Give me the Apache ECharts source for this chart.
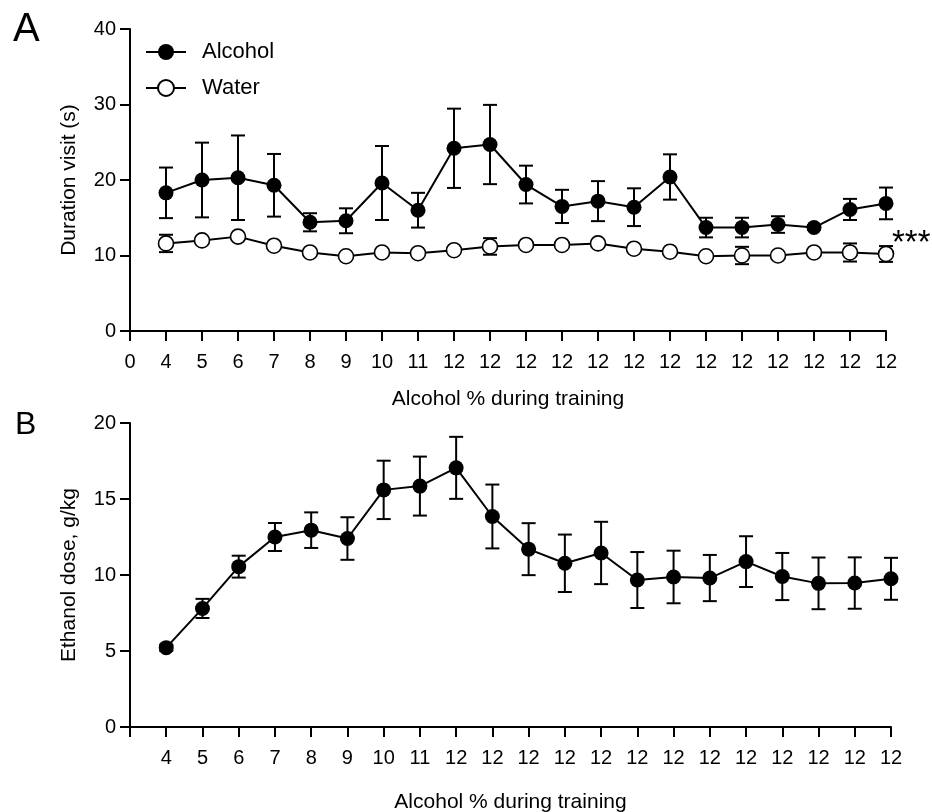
<!DOCTYPE html>
<html>
<head>
<meta charset="utf-8">
<script src="https://cdn.jsdelivr.net/npm/echarts@6/dist/echarts.min.js"></script>
<style>html,body{margin:0;padding:0;background:#fff}#c{width:932px;height:812px}</style>
</head>
<body>
<div id="c"></div>
<script>
// ---- data ----
const xLabelsA = ['0','4','5','6','7','8','9','10','11','12','12','12','12','12','12','12','12','12','12','12','12','12'];
const xLabelsB = ['','4','5','6','7','8','9','10','11','12','12','12','12','12','12','12','12','12','12','12','12','12'];
const alcoholMean = [18.3, 20.0, 20.3, 19.3, 14.4, 14.6, 19.6, 16.0, 24.2, 24.7, 19.4, 16.5, 17.2, 16.4, 20.4, 13.7, 13.7, 14.1, 13.7, 16.1, 16.9];
const alcoholSem  = [3.35, 4.95, 5.6, 4.15, 1.2, 1.65, 4.9, 2.3, 5.25, 5.25, 2.5, 2.2, 2.65, 2.5, 3.0, 1.3, 1.3, 1.1, 0.3, 1.4, 2.1];
const waterMean   = [11.6, 12.0, 12.5, 11.3, 10.4, 9.9, 10.4, 10.3, 10.7, 11.2, 11.4, 11.4, 11.6, 10.9, 10.5, 9.9, 10.0, 10.0, 10.4, 10.4, 10.2];
const waterSem    = [1.15, 0.3, 0.3, 0.3, 0.3, 0.3, 0.3, 0.3, 0.3, 1.1, 0.3, 0.3, 0.3, 0.3, 0.3, 0.3, 1.15, 0.3, 0.3, 1.2, 1.05];
const doseMean = [5.22, 7.8, 10.55, 12.5, 12.95, 12.4, 15.6, 15.85, 17.05, 13.85, 11.7, 10.77, 11.45, 9.67, 9.87, 9.8, 10.88, 9.9, 9.45, 9.47, 9.75];
const doseSem  = [0.2, 0.63, 0.72, 0.92, 1.17, 1.4, 1.92, 1.94, 2.04, 2.1, 1.71, 1.89, 2.05, 1.84, 1.73, 1.52, 1.67, 1.55, 1.7, 1.69, 1.38];

const FONT = "'Liberation Sans', Arial, sans-serif";
const chart = echarts.init(document.getElementById('c'), null, {renderer: 'canvas'});

function lineData(means) { return [null].concat(means); }
function errData(means, sems) { return means.map((m, i) => [i + 1, m, sems[i]]); }

function errorBarSeries(xIdx, yIdx, means, sems) {
  return {
    type: 'custom', xAxisIndex: xIdx, yAxisIndex: yIdx, z: 1, silent: true,
    data: errData(means, sems),
    renderItem: function (params, api) {
      const x = api.value(0), m = api.value(1), e = api.value(2);
      const t = api.coord([x, m + e]);
      const b = api.coord([x, m - e]);
      const h = 7;
      const st = {stroke: '#000', lineWidth: 2};
      return {type: 'group', children: [
        {type: 'line', shape: {x1: t[0], y1: t[1], x2: b[0], y2: b[1]}, style: st},
        {type: 'line', shape: {x1: t[0] - h, y1: t[1], x2: t[0] + h, y2: t[1]}, style: st},
        {type: 'line', shape: {x1: b[0] - h, y1: b[1], x2: b[0] + h, y2: b[1]}, style: st}
      ]};
    }
  };
}

function xAxis(gi, labels, gap) {
  return {
    type: 'category', gridIndex: gi, data: labels, boundaryGap: false,
    name: 'Alcohol % during training', nameLocation: 'middle', nameGap: gap,
    nameTextStyle: {color: '#000', fontSize: 21, fontFamily: FONT},
    axisLine: {lineStyle: {color: '#000', width: 2}},
    axisTick: {show: true, length: 10, lineStyle: {color: '#000', width: 2}, interval: 0},
    axisLabel: {interval: 0, color: '#000', fontSize: 20, fontFamily: FONT, margin: 21},
    splitLine: {show: false}
  };
}
function yAxis(gi, name, max, interval) {
  return {
    type: 'value', gridIndex: gi, min: 0, max: max, interval: interval,
    name: name, nameLocation: 'middle', nameGap: 50,
    nameTextStyle: {color: '#000', fontSize: 21, fontFamily: FONT},
    axisLine: {show: true, lineStyle: {color: '#000', width: 2}},
    axisTick: {show: true, length: 10, lineStyle: {color: '#000', width: 2}},
    axisLabel: {color: '#000', fontSize: 20, fontFamily: FONT, margin: 14},
    splitLine: {show: false}
  };
}

const option = {
  animation: false,
  backgroundColor: '#fff',
  grid: [
    {left: 130, right: 46, top: 29, height: 302, outerBoundsMode: 'none', containLabel: false},
    {left: 130, right: 41, top: 423, height: 304, outerBoundsMode: 'none', containLabel: false}
  ],
  xAxis: [xAxis(0, xLabelsA, 58), xAxis(1, xLabelsB, 65)],
  yAxis: [yAxis(0, 'Duration visit (s)', 40, 10), yAxis(1, 'Ethanol dose, g/kg', 20, 5)],
  legend: {
    data: ['Alcohol', 'Water'], orient: 'vertical', left: 145, top: 41, padding: 0,
    itemWidth: 40, itemHeight: 20, itemGap: 14,
    textStyle: {color: '#000', fontSize: 22, fontFamily: FONT, lineHeight: 21, padding: [0, 0, 0, 11]}
  },
  graphic: [
    {type: 'text', left: 13, top: 10, style: {text: 'A', fontSize: 40, fontFamily: FONT, fill: '#000'}},
    {type: 'text', left: 15, top: 409, style: {text: 'B', fontSize: 32, fontFamily: FONT, fill: '#000'}},
    {type: 'text', x: 892, y: 244, style: {text: '***', fontSize: 33, fontFamily: FONT, fill: '#000', verticalAlign: 'middle'}}
  ],
  series: [
    errorBarSeries(0, 0, alcoholMean, alcoholSem),
    errorBarSeries(0, 0, waterMean, waterSem),
    errorBarSeries(1, 1, doseMean, doseSem),
    {
      name: 'Alcohol', type: 'line', xAxisIndex: 0, yAxisIndex: 0, z: 3,
      data: lineData(alcoholMean), symbol: 'circle', symbolSize: 15,
      lineStyle: {color: '#000', width: 2}, itemStyle: {color: '#000', borderColor: '#000', borderWidth: 0}
    },
    {
      name: 'Water', type: 'line', xAxisIndex: 0, yAxisIndex: 0, z: 3,
      data: lineData(waterMean), symbol: 'circle', symbolSize: 15,
      lineStyle: {color: '#000', width: 2}, itemStyle: {color: '#fff', borderColor: '#000', borderWidth: 1.6}
    },
    {
      name: 'Dose', type: 'line', xAxisIndex: 1, yAxisIndex: 1, z: 3,
      data: lineData(doseMean), symbol: 'circle', symbolSize: 15,
      lineStyle: {color: '#000', width: 2}, itemStyle: {color: '#000', borderWidth: 0}
    }
  ]
};
chart.setOption(option);
</script>
</body>
</html>
